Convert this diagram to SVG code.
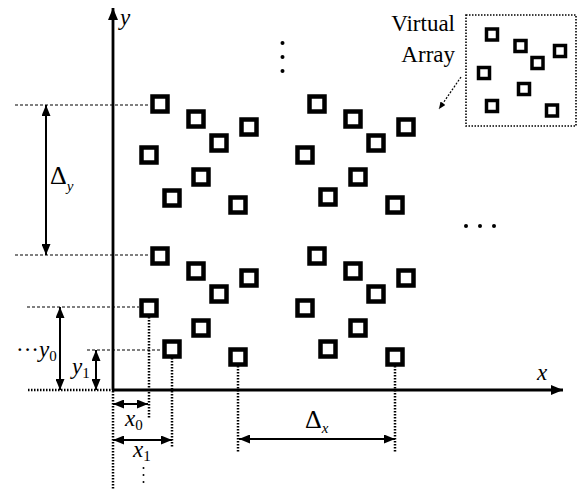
<svg xmlns="http://www.w3.org/2000/svg" width="581" height="489" viewBox="0 0 581 489">
<style>
.sq{fill:#fff;stroke:#000;stroke-width:4.5}
.vsq{fill:#fff;stroke:#000;stroke-width:3.5}
.axis{stroke:#000;stroke-width:2.8;fill:none}
.dash{stroke:#000;stroke-width:1.2;stroke-dasharray:3 2;fill:none}
.dot{stroke:#000;stroke-width:2.5;stroke-dasharray:1.5 1.5;fill:none}
.dim{stroke:#000;stroke-width:2;fill:none}
.lbl{font-family:"Liberation Serif",serif;font-size:23px;fill:#000}
.big{font-size:26px}
.it{font-style:italic}
.sub{font-family:"Liberation Serif",serif;font-size:15px;fill:#000}
</style>
<defs>
<marker id="ah" viewBox="0 0 11 9" refX="11" refY="4.5" markerUnits="userSpaceOnUse" markerWidth="11" markerHeight="9" orient="auto-start-reverse"><path d="M0,0 L11,4.5 L0,9 z" fill="#000"/></marker>
<marker id="axh" viewBox="0 0 12 10" refX="12" refY="5" markerUnits="userSpaceOnUse" markerWidth="12" markerHeight="10" orient="auto"><path d="M0,0 L12,5 L0,10 z" fill="#000"/></marker>
<marker id="sah" viewBox="0 0 7 6" refX="7" refY="3" markerUnits="userSpaceOnUse" markerWidth="7" markerHeight="6" orient="auto"><path d="M0,0 L7,3 L0,6 z" fill="#000"/></marker>
</defs>
<rect width="581" height="489" fill="#fff"/>

<g id="connectors">
<line class="axis" x1="113" y1="390" x2="113" y2="8" marker-end="url(#axh)"/>
<line class="axis" x1="112" y1="390" x2="563" y2="390" marker-end="url(#axh)"/>
<line class="dash" x1="15" y1="105" x2="150" y2="105"/>
<line class="dash" x1="15" y1="255" x2="150" y2="255"/>
<line class="dash" x1="27" y1="307" x2="139" y2="307"/>
<line class="dash" x1="87" y1="350" x2="162" y2="350"/>
<line class="dot" x1="28" y1="390" x2="112" y2="390"/>
<line class="dot" x1="113" y1="391" x2="113" y2="489"/>
<line class="dot" x1="149" y1="317" x2="149" y2="418"/>
<line class="dot" x1="172" y1="358" x2="172" y2="447"/>
<line class="dot" x1="238" y1="366" x2="238" y2="453"/>
<line class="dot" x1="395" y1="366" x2="395" y2="453"/>
<line class="dim" x1="46" y1="105" x2="46" y2="255" marker-start="url(#ah)" marker-end="url(#ah)"/>
<line class="dim" x1="60" y1="307" x2="60" y2="390" marker-start="url(#ah)" marker-end="url(#ah)"/>
<line class="dim" x1="96" y1="350" x2="96" y2="390" marker-start="url(#ah)" marker-end="url(#ah)"/>
<line class="dim" x1="113" y1="404" x2="148" y2="404" marker-start="url(#ah)" marker-end="url(#ah)"/>
<line class="dim" x1="113" y1="440" x2="172" y2="440" marker-start="url(#ah)" marker-end="url(#ah)"/>
<line class="dim" x1="239" y1="439" x2="395" y2="439" marker-start="url(#ah)" marker-end="url(#ah)"/>
<line x1="461" y1="77" x2="439" y2="109" stroke="#000" stroke-width="1.2" stroke-dasharray="2 1.5" marker-end="url(#sah)"/>
</g>

<g id="array-top-left">
<rect class="sq" x="152.5" y="96.5" width="15" height="15"/>
<rect class="sq" x="188.5" y="111.5" width="15" height="15"/>
<rect class="sq" x="241.5" y="119.5" width="15" height="15"/>
<rect class="sq" x="211.5" y="135.5" width="15" height="15"/>
<rect class="sq" x="141.5" y="147.5" width="15" height="15"/>
<rect class="sq" x="193.5" y="169.5" width="15" height="15"/>
<rect class="sq" x="164.5" y="190.5" width="15" height="15"/>
<rect class="sq" x="230.5" y="197.5" width="15" height="15"/>
</g>
<g id="array-bottom-left">
<rect class="sq" x="152.5" y="248.5" width="15" height="15"/>
<rect class="sq" x="188.5" y="263.5" width="15" height="15"/>
<rect class="sq" x="241.5" y="270.5" width="15" height="15"/>
<rect class="sq" x="211.5" y="286.5" width="15" height="15"/>
<rect class="sq" x="141.5" y="300.5" width="15" height="15"/>
<rect class="sq" x="193.5" y="320.5" width="15" height="15"/>
<rect class="sq" x="164.5" y="341.5" width="15" height="15"/>
<rect class="sq" x="230.5" y="349.5" width="15" height="15"/>
</g>
<g id="array-top-right">
<rect class="sq" x="309.5" y="96.5" width="15" height="15"/>
<rect class="sq" x="345.5" y="111.5" width="15" height="15"/>
<rect class="sq" x="398.5" y="119.5" width="15" height="15"/>
<rect class="sq" x="368.5" y="135.5" width="15" height="15"/>
<rect class="sq" x="297.5" y="147.5" width="15" height="15"/>
<rect class="sq" x="350.5" y="169.5" width="15" height="15"/>
<rect class="sq" x="320.5" y="189.5" width="15" height="15"/>
<rect class="sq" x="387.5" y="197.5" width="15" height="15"/>
</g>
<g id="array-bottom-right">
<rect class="sq" x="309.5" y="248.5" width="15" height="15"/>
<rect class="sq" x="345.5" y="263.5" width="15" height="15"/>
<rect class="sq" x="398.5" y="270.5" width="15" height="15"/>
<rect class="sq" x="368.5" y="286.5" width="15" height="15"/>
<rect class="sq" x="297.5" y="300.5" width="15" height="15"/>
<rect class="sq" x="350.5" y="320.5" width="15" height="15"/>
<rect class="sq" x="320.5" y="341.5" width="15" height="15"/>
<rect class="sq" x="387.5" y="349.5" width="15" height="15"/>
</g>

<g id="virtual-array">
<rect x="466" y="15" width="110" height="111" fill="none" stroke="#000" stroke-width="1.6" stroke-dasharray="1.5 1.5"/>
<rect class="vsq" x="486.5" y="29" width="11" height="11"/>
<rect class="vsq" x="515" y="40.5" width="11" height="11"/>
<rect class="vsq" x="554.5" y="45.5" width="11" height="11"/>
<rect class="vsq" x="532" y="57.5" width="11" height="11"/>
<rect class="vsq" x="478.5" y="67.5" width="11" height="11"/>
<rect class="vsq" x="518.5" y="83.5" width="11" height="11"/>
<rect class="vsq" x="486.5" y="100.5" width="11" height="11"/>
<rect class="vsq" x="546.5" y="105" width="11" height="11"/>
</g>

<g id="labels">
<text class="lbl" x="455" y="31" text-anchor="end">Virtual</text>
<text class="lbl" x="455" y="62" text-anchor="end">Array</text>
<text class="lbl it" x="120" y="25">y</text>
<text class="lbl it" x="537" y="380">x</text>
<text class="lbl big" x="50" y="184">Δ<tspan class="sub it" dy="7">y</tspan></text>
<text class="lbl big" x="305" y="428">Δ<tspan class="sub it" dy="5">x</tspan></text>
<text class="lbl" x="16" y="357">···<tspan class="it">y</tspan><tspan class="sub" dy="4">0</tspan></text>
<text class="lbl it" x="72" y="374">y<tspan class="sub" dy="4" font-style="normal">1</tspan></text>
<text class="lbl it" x="125" y="426">x<tspan class="sub" dy="4" font-style="normal">0</tspan></text>
<text class="lbl it" x="133" y="457">x<tspan class="sub" dy="4" font-style="normal">1</tspan></text>
</g>

<g id="ellipses">
<circle cx="282.5" cy="43" r="2"/>
<circle cx="282.5" cy="57" r="2"/>
<circle cx="282.5" cy="71" r="2"/>
<circle cx="466" cy="226" r="2"/>
<circle cx="480" cy="226" r="2"/>
<circle cx="494" cy="226" r="2"/>
<circle cx="143.5" cy="468" r="1"/>
<circle cx="143.5" cy="475" r="1"/>
<circle cx="143.5" cy="482" r="1"/>
</g>
</svg>
